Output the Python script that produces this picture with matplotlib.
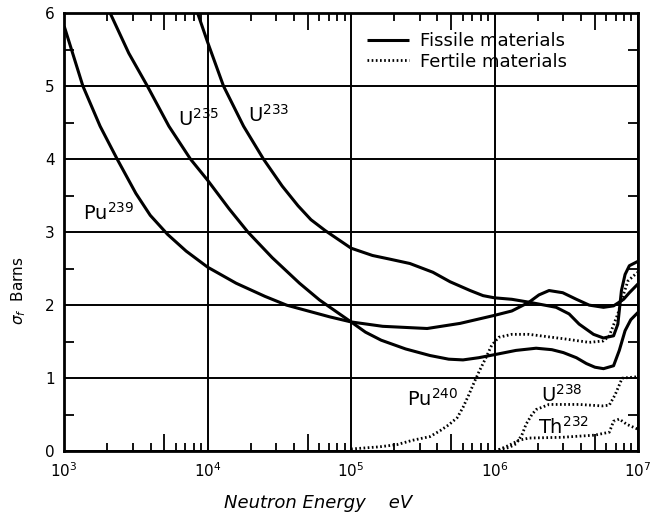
import matplotlib
matplotlib.use("Agg")
import matplotlib.pyplot as plt
from matplotlib.ticker import LogLocator, MultipleLocator, NullFormatter, NullLocator

# fission cross sections (energy in eV, sigma_f in barns)
pu239_e = [1.0e3, 1.35e3, 1.78e3, 2.34e3, 3.16e3, 3.98e3, 5.25e3, 7.08e3, 1.0e4, 1.58e4,
           2.51e4, 3.55e4, 5.01e4, 7.08e4, 1.0e5, 1.66e5, 3.39e5, 5.75e5, 1.0e6, 1.32e6,
           1.74e6, 2.04e6, 2.4e6, 2.99e6, 3.72e6, 4.57e6, 5.75e6, 6.76e6, 7.94e6, 8.71e6, 1.0e7]
pu239_s = [5.82, 5.0, 4.45, 4.0, 3.53, 3.23, 2.97, 2.74, 2.52, 2.3,
           2.12, 2.0, 1.92, 1.84, 1.77, 1.71, 1.68, 1.75, 1.86, 1.92,
           2.04, 2.14, 2.2, 2.17, 2.08, 2.0, 1.97, 1.99, 2.08, 2.17, 2.29]

u233_e = [8.51e3, 1.0e4, 1.29e4, 1.78e4, 2.45e4, 3.31e4, 4.27e4, 5.25e4, 6.61e4, 1.0e5,
          1.41e5, 1.86e5, 2.57e5, 3.72e5, 4.9e5, 6.76e5, 8.32e5, 1.0e6, 1.32e6, 1.74e6,
          2.69e6, 3.31e6, 3.89e6, 4.9e6, 5.75e6, 6.76e6, 7.24e6, 7.67e6, 8.13e6, 8.71e6, 1.0e7]
u233_s = [6.0, 5.6, 5.0, 4.45, 4.0, 3.63, 3.36, 3.17, 3.02, 2.78,
          2.68, 2.63, 2.57, 2.45, 2.32, 2.2, 2.13, 2.1, 2.08, 2.04,
          1.97, 1.88, 1.74, 1.6, 1.55, 1.58, 1.74, 2.2, 2.42, 2.54, 2.6]

u235_e = [2.09e3, 2.82e3, 3.8e3, 5.37e3, 7.59e3, 1.0e4, 1.41e4, 1.91e4, 2.82e4, 4.37e4,
          6.03e4, 7.76e4, 1.0e5, 1.26e5, 1.62e5, 2.4e5, 3.55e5, 4.79e5, 6.03e5, 7.76e5,
          1.05e6, 1.41e6, 1.95e6, 2.51e6, 3.02e6, 3.72e6, 4.37e6, 5.01e6, 5.75e6, 6.76e6,
          7.41e6, 8.13e6, 8.91e6, 1.0e7]
u235_s = [6.0, 5.45, 5.0, 4.45, 4.0, 3.71, 3.32, 3.0, 2.65, 2.3,
          2.07, 1.92, 1.77, 1.63, 1.52, 1.4, 1.31, 1.26, 1.25, 1.28,
          1.33, 1.38, 1.41, 1.39, 1.35, 1.28, 1.2, 1.15, 1.13, 1.17,
          1.38, 1.65, 1.8, 1.9]

pu240_e = [1.0e5, 1.58e5, 2.09e5, 2.69e5, 3.55e5, 4.17e5, 4.79e5, 5.5e5, 6.03e5, 6.61e5,
           7.24e5, 7.76e5, 8.71e5, 9.55e5, 1.07e6, 1.32e6, 1.74e6, 2.29e6, 3.02e6, 4.57e6,
           5.75e6, 6.31e6, 7.24e6, 7.94e6, 8.51e6, 9.55e6, 1.0e7]
pu240_s = [0.03, 0.06, 0.09, 0.15, 0.2, 0.28, 0.36, 0.46, 0.6, 0.77,
           0.95, 1.08, 1.28, 1.45, 1.56, 1.6, 1.6, 1.57, 1.54, 1.49,
           1.51, 1.58, 1.88, 2.15, 2.33, 2.42, 2.45]

u238_e = [1.0e6, 1.26e6, 1.41e6, 1.55e6, 1.66e6, 1.82e6, 1.95e6, 2.4e6, 3.89e6, 5.62e6,
          6.31e6, 6.92e6, 7.76e6, 1.0e7]
u238_s = [0.01, 0.05, 0.1, 0.22, 0.37, 0.5, 0.57, 0.64, 0.64, 0.62,
          0.63, 0.77, 1.0, 1.02]

th232_e = [1.07e6, 1.26e6, 1.48e6, 1.74e6, 2.95e6, 5.01e6, 6.31e6, 6.76e6, 7.41e6, 8.32e6, 1.0e7]
th232_s = [0.02, 0.08, 0.15, 0.18, 0.19, 0.22, 0.26, 0.41, 0.44, 0.37, 0.3]

decades = [1e3, 1e4, 1e5, 1e6, 1e7]
decade_labels = [r"$10^{3}$", r"$10^{4}$", r"$10^{5}$", r"$10^{6}$", r"$10^{7}$"]
half_decades = [5e3, 5e4, 5e5, 5e6]

fig = plt.figure(figsize=(6.55, 5.21), dpi=100)
ax = fig.add_axes([0.098, 0.134, 0.876, 0.841])

solid = dict(color="black", lw=2.2, solid_capstyle="butt")
dotted = dict(color="black", lw=2.0, dashes=(0.6, 0.9), dash_capstyle="butt")

ax.plot(pu239_e, pu239_s, label="Fissile materials", **solid)
ax.plot(u233_e, u233_s, **solid)
ax.plot(u235_e, u235_s, **solid)
ax.plot(pu240_e, pu240_s, label="Fertile materials", **dotted)
ax.plot(u238_e, u238_s, **dotted)
ax.plot(th232_e, th232_s, **dotted)

ax.set_xscale("log")
ax.set_xlim(1e3, 1e7)
ax.set_ylim(0, 6)

ax.set_xticks(decades)
ax.set_xticklabels(decade_labels)
ax.xaxis.set_minor_locator(LogLocator(base=10, subs=(2, 3, 4, 6, 7, 8, 9)))
ax.xaxis.set_minor_formatter(NullFormatter())
ax.yaxis.set_major_locator(MultipleLocator(1))
ax.yaxis.set_minor_locator(MultipleLocator(0.5))

ax.tick_params(which="major", length=0, pad=7, labelsize=11)
ax.tick_params(axis="x", which="minor", direction="in", length=5.5, width=1.3,
               top=True, bottom=True)
ax.tick_params(axis="y", which="minor", direction="in", length=7, width=1.3,
               left=True, right=True)

ax.grid(True, which="major", color="black", lw=1.4)
for sp in ax.spines.values():
    sp.set_linewidth(2)

# longer ruler ticks at 5 x 10^n, top and bottom
for side in ("bottom", "top"):
    sec = ax.secondary_xaxis(side)
    sec.set_xticks(half_decades)
    sec.xaxis.set_minor_locator(NullLocator())
    sec.tick_params(direction="in", length=12, width=1.3, labelbottom=False, labeltop=False)
    sec.spines[side].set_visible(False)

# curve labels
lab = dict(fontsize=14, va="center", ha="left")
ax.text(1.35e3, 3.27, r"Pu$^{239}$", **lab)
ax.text(6.2e3, 4.55, r"U$^{235}$", **lab)
ax.text(1.9e4, 4.6, r"U$^{233}$", **lab)
ax.text(2.45e5, 0.72, r"Pu$^{240}$", **lab)
ax.text(2.1e6, 0.77, r"U$^{238}$", **lab)
ax.text(2.0e6, 0.34, r"Th$^{232}$", **lab)

ax.legend(loc="upper left", bbox_to_anchor=(0.528, 0.957), frameon=False,
          fontsize=13, handlelength=2.3, handletextpad=0.6, borderpad=0,
          borderaxespad=0, labelspacing=0.15)

fig.text(0.486, 0.025, "Neutron Energy    eV", style="italic", fontsize=13,
         ha="center", va="baseline")
fig.text(0.029, 0.441, r"$\sigma_f$  Barns", rotation=90, fontsize=11,
         ha="center", va="center")

fig.savefig("out.png", dpi=100)
